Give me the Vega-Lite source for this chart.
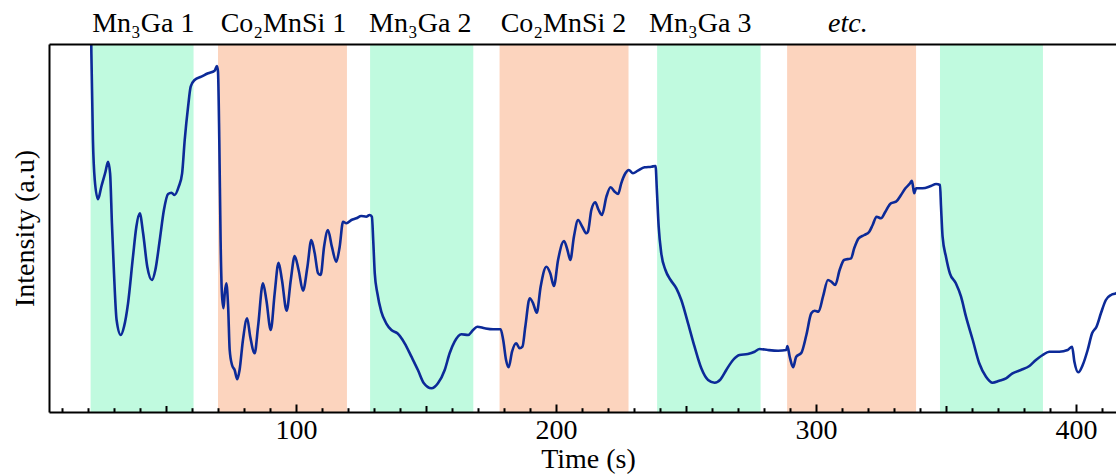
{
  "$schema": "https://vega.github.io/schema/vega-lite/v6.json",
  "width": 1067,
  "height": 368,
  "autosize": {"type": "none"},
  "padding": {"left": 49, "top": 44, "right": 0, "bottom": 63},
  "background": "white",
  "view": {"stroke": null},
  "config": {"font": "Liberation Serif"},
  "datasets": {
    "bands": [
      {"s": 21.0, "e": 60.6, "k": "Mn3Ga"},
      {"s": 70.0, "e": 119.6, "k": "Co2MnSi"},
      {"s": 128.5, "e": 168.2, "k": "Mn3Ga"},
      {"s": 178.3, "e": 227.9, "k": "Co2MnSi"},
      {"s": 238.9, "e": 278.7, "k": "Mn3Ga"},
      {"s": 288.9, "e": 338.5, "k": "Co2MnSi"},
      {"s": 347.7, "e": 387.3, "k": "Mn3Ga"}
    ],
    "signal": [
      {"t": 20.95, "v": 440}, {"t": 21.3, "v": 358.7}, {"t": 21.9, "v": 272}, {"t": 22.6, "v": 232},
      {"t": 23.85, "v": 212.7}, {"t": 25.1, "v": 225}, {"t": 26.7, "v": 240}, {"t": 27.7, "v": 250.3},
      {"t": 28.5, "v": 238.7}, {"t": 29.2, "v": 188.7}, {"t": 30.0, "v": 138.7}, {"t": 31.0, "v": 92},
      {"t": 32.6, "v": 77}, {"t": 33.85, "v": 85.3}, {"t": 35.4, "v": 108.7}, {"t": 37.3, "v": 155.3},
      {"t": 38.6, "v": 185.3}, {"t": 39.9, "v": 198.7}, {"t": 41.2, "v": 178.7}, {"t": 42.8, "v": 145.3},
      {"t": 44.6, "v": 132}, {"t": 45.9, "v": 142}, {"t": 47.6, "v": 172}, {"t": 49.2, "v": 202},
      {"t": 50.8, "v": 218}, {"t": 52.1, "v": 219.3}, {"t": 53.3, "v": 217}, {"t": 54.9, "v": 225.3},
      {"t": 56.2, "v": 238.7}, {"t": 57.2, "v": 272}, {"t": 58.5, "v": 305.3}, {"t": 59.5, "v": 325.3},
      {"t": 61.0, "v": 332}, {"t": 63.6, "v": 335.3}, {"t": 66.2, "v": 338.7}, {"t": 68.7, "v": 341.3},
      {"t": 69.6, "v": 346}, {"t": 70.0, "v": 340.3}, {"t": 70.5, "v": 272}, {"t": 71.0, "v": 172},
      {"t": 71.5, "v": 118.7}, {"t": 72.1, "v": 103.7}, {"t": 72.6, "v": 118.7}, {"t": 73.2, "v": 128.7},
      {"t": 73.9, "v": 105.3}, {"t": 74.5, "v": 62}, {"t": 75.4, "v": 47}, {"t": 76.4, "v": 42},
      {"t": 77.4, "v": 32.7}, {"t": 78.3, "v": 42}, {"t": 79.6, "v": 72}, {"t": 81.2, "v": 93.7},
      {"t": 82.4, "v": 75.3}, {"t": 84.1, "v": 58.7}, {"t": 85.4, "v": 85.3}, {"t": 87.3, "v": 128.7},
      {"t": 88.6, "v": 112}, {"t": 90.3, "v": 82}, {"t": 91.8, "v": 118.7}, {"t": 93.3, "v": 149.3},
      {"t": 94.6, "v": 132}, {"t": 96.4, "v": 101.3}, {"t": 98.0, "v": 132}, {"t": 99.5, "v": 156},
      {"t": 101.0, "v": 142}, {"t": 102.7, "v": 121.3}, {"t": 104.4, "v": 145.3}, {"t": 105.9, "v": 172},
      {"t": 107.2, "v": 158.7}, {"t": 108.5, "v": 138.7}, {"t": 109.5, "v": 137}, {"t": 110.8, "v": 165.3},
      {"t": 112.3, "v": 182}, {"t": 113.8, "v": 165.3}, {"t": 115.5, "v": 150.3}, {"t": 116.8, "v": 165.3},
      {"t": 118.1, "v": 190.3}, {"t": 119.4, "v": 188.7}, {"t": 121.3, "v": 192}, {"t": 123.2, "v": 193.7},
      {"t": 125.1, "v": 196}, {"t": 127.0, "v": 195.3}, {"t": 128.3, "v": 197}, {"t": 129.2, "v": 195.3},
      {"t": 129.7, "v": 172}, {"t": 130.3, "v": 138.7}, {"t": 131.3, "v": 118.7}, {"t": 132.8, "v": 100.3},
      {"t": 134.7, "v": 88.7}, {"t": 136.7, "v": 82}, {"t": 139.0, "v": 78.7}, {"t": 141.8, "v": 68.7},
      {"t": 144.4, "v": 55.3}, {"t": 146.9, "v": 42}, {"t": 149.2, "v": 28.7}, {"t": 152.1, "v": 23.7},
      {"t": 154.6, "v": 28.7}, {"t": 157.2, "v": 42}, {"t": 159.1, "v": 58.7}, {"t": 161.0, "v": 70.3},
      {"t": 163.6, "v": 77.7}, {"t": 166.2, "v": 77}, {"t": 168.1, "v": 82}, {"t": 169.7, "v": 85.3},
      {"t": 172.6, "v": 83.7}, {"t": 175.8, "v": 82.7}, {"t": 178.7, "v": 82.7}, {"t": 179.7, "v": 72},
      {"t": 180.8, "v": 52}, {"t": 181.8, "v": 44.7}, {"t": 183.1, "v": 60.3}, {"t": 184.7, "v": 68.7},
      {"t": 186.0, "v": 63.7}, {"t": 187.1, "v": 65.3}, {"t": 188.2, "v": 85.3}, {"t": 189.9, "v": 113.7},
      {"t": 191.2, "v": 108.7}, {"t": 192.6, "v": 99.3}, {"t": 194.1, "v": 125.3}, {"t": 196.3, "v": 145.3},
      {"t": 197.8, "v": 138.7}, {"t": 199.2, "v": 126}, {"t": 200.8, "v": 152}, {"t": 203.1, "v": 171},
      {"t": 204.4, "v": 162}, {"t": 205.5, "v": 152}, {"t": 206.9, "v": 175.3}, {"t": 208.5, "v": 192},
      {"t": 210.1, "v": 185.3}, {"t": 211.7, "v": 178.7}, {"t": 212.3, "v": 180.3}, {"t": 213.6, "v": 202},
      {"t": 215.1, "v": 209.7}, {"t": 216.4, "v": 202}, {"t": 217.7, "v": 197}, {"t": 219.4, "v": 215.3},
      {"t": 221.0, "v": 224.7}, {"t": 222.6, "v": 220.3}, {"t": 223.9, "v": 218}, {"t": 225.1, "v": 228.7},
      {"t": 226.7, "v": 238.7}, {"t": 228.0, "v": 242}, {"t": 229.6, "v": 238.7}, {"t": 231.5, "v": 241.3},
      {"t": 234.1, "v": 244.7}, {"t": 236.7, "v": 245.3}, {"t": 238.3, "v": 246}, {"t": 238.8, "v": 222},
      {"t": 239.5, "v": 185.3}, {"t": 240.5, "v": 158.7}, {"t": 242.1, "v": 142}, {"t": 244.1, "v": 132},
      {"t": 246.3, "v": 123.7}, {"t": 248.2, "v": 112}, {"t": 250.8, "v": 88.7}, {"t": 253.3, "v": 65.3},
      {"t": 255.9, "v": 43.7}, {"t": 258.5, "v": 32}, {"t": 261.0, "v": 29.3}, {"t": 263.3, "v": 32.7},
      {"t": 265.5, "v": 42}, {"t": 268.1, "v": 52}, {"t": 270.6, "v": 57}, {"t": 273.8, "v": 58},
      {"t": 276.4, "v": 60.3}, {"t": 278.3, "v": 63}, {"t": 281.5, "v": 62}, {"t": 285.4, "v": 61.3},
      {"t": 288.6, "v": 62}, {"t": 289.0, "v": 66}, {"t": 289.9, "v": 55.3}, {"t": 291.2, "v": 44.7},
      {"t": 292.4, "v": 55.3}, {"t": 294.4, "v": 59.3}, {"t": 296.3, "v": 77}, {"t": 298.2, "v": 98.7},
      {"t": 299.5, "v": 101.3}, {"t": 301.0, "v": 100.3}, {"t": 302.7, "v": 115.3}, {"t": 304.6, "v": 132},
      {"t": 305.9, "v": 130.3}, {"t": 307.4, "v": 127}, {"t": 309.1, "v": 142}, {"t": 310.8, "v": 152},
      {"t": 313.5, "v": 153.7}, {"t": 314.7, "v": 163.7}, {"t": 316.4, "v": 173.7}, {"t": 318.6, "v": 177},
      {"t": 320.5, "v": 180.3}, {"t": 321.8, "v": 187}, {"t": 323.3, "v": 195.3}, {"t": 325.0, "v": 193.7},
      {"t": 326.7, "v": 200.3}, {"t": 328.8, "v": 208.7}, {"t": 330.8, "v": 210.3}, {"t": 332.7, "v": 217},
      {"t": 334.4, "v": 223.7}, {"t": 336.2, "v": 228.7}, {"t": 336.9, "v": 231.3}, {"t": 337.8, "v": 218.7},
      {"t": 338.5, "v": 223.7}, {"t": 341.0, "v": 223.7}, {"t": 344.2, "v": 226}, {"t": 346.2, "v": 228},
      {"t": 347.7, "v": 227}, {"t": 348.1, "v": 205.3}, {"t": 348.7, "v": 175.3}, {"t": 350.0, "v": 155.3},
      {"t": 351.5, "v": 138.7}, {"t": 353.8, "v": 128.7}, {"t": 355.8, "v": 115.3}, {"t": 357.7, "v": 95.3},
      {"t": 360.3, "v": 72}, {"t": 362.8, "v": 48.7}, {"t": 365.4, "v": 35.3}, {"t": 367.9, "v": 29.3},
      {"t": 370.5, "v": 31.3}, {"t": 373.1, "v": 33.7}, {"t": 375.6, "v": 38.7}, {"t": 378.8, "v": 42},
      {"t": 382.1, "v": 46}, {"t": 384.6, "v": 52}, {"t": 387.2, "v": 57}, {"t": 389.7, "v": 60.3},
      {"t": 393.6, "v": 60.3}, {"t": 396.8, "v": 62}, {"t": 398.5, "v": 65.3}, {"t": 399.4, "v": 50.3},
      {"t": 400.9, "v": 39.7}, {"t": 402.6, "v": 47}, {"t": 404.5, "v": 62}, {"t": 406.2, "v": 78.7},
      {"t": 407.9, "v": 85.3}, {"t": 409.6, "v": 98.7}, {"t": 411.5, "v": 112}, {"t": 413.5, "v": 117},
      {"t": 415.4, "v": 118.7}, {"t": 417.0, "v": 122}
    ]
  },
  "layer": [
    {
      "data": {"name": "bands"},
      "mark": {"type": "rect"},
      "encoding": {
        "x": {
          "field": "s", "type": "quantitative",
          "scale": {"domain": [5, 415.4], "nice": false, "zero": false},
          "axis": {
            "orient": "bottom",
            "zindex": 1,
            "values": [10, 20, 30, 40, 50, 60, 70, 80, 90, 100, 110, 120, 130, 140, 150, 160, 170, 180, 190, 200, 210, 220, 230, 240, 250, 260, 270, 280, 290, 300, 310, 320, 330, 340, 350, 360, 370, 380, 390, 400, 410],
            "labelExpr": "datum.value % 100 === 0 ? datum.label : ''",
            "labelOverlap": false,
            "labelFlush": false,
            "grid": false,
            "domainColor": "black",
            "domainWidth": 2,
            "tickColor": "black",
            "tickWidth": 2,
            "tickSize": {"condition": [{"test": "datum.value % 100 === 0", "value": -8}, {"test": "datum.value % 50 === 0", "value": -6.5}], "value": -4.3},
            "labelFont": "Liberation Serif",
            "labelFontSize": 28,
            "labelColor": "black",
            "labelBaseline": "alphabetic",
            "labelPadding": 34,
            "title": "Time (s)",
            "titleFont": "Liberation Serif",
            "titleFontSize": 28,
            "titleFontWeight": "normal",
            "titleColor": "black",
            "titleBaseline": "alphabetic",
            "titleX": 539,
            "titleY": 55
          }
        },
        "x2": {"field": "e"},
        "color": {
          "field": "k", "type": "nominal",
          "scale": {"domain": ["Mn3Ga", "Co2MnSi"], "range": ["#c0fadf", "#fcd4be"]},
          "legend": null
        }
      }
    },
    {
      "data": {"name": "signal"},
      "mark": {"type": "line", "color": "#0c2a98", "strokeWidth": 2.6, "clip": true, "interpolate": "monotone"},
      "encoding": {
        "x": {
          "field": "t", "type": "quantitative",
          "scale": {"domain": [5, 415.4], "nice": false, "zero": false},
          "axis": {
            "orient": "top",
            "zindex": 1,
            "values": [41.1, 95.0, 147.6, 202.7, 255.3, 312.1],
            "labelExpr": "datum.value < 60 ? 'Mn₃Ga 1' : datum.value < 120 ? 'Co₂MnSi 1' : datum.value < 170 ? 'Mn₃Ga 2' : datum.value < 230 ? 'Co₂MnSi 2' : datum.value < 280 ? 'Mn₃Ga 3' : 'etc.'",
            "labelFontStyle": {"condition": {"test": "datum.value > 300", "value": "italic"}, "value": "normal"},
            "labelOverlap": false,
            "labelFlush": false,
            "ticks": false,
            "grid": false,
            "domainColor": "black",
            "domainWidth": 2,
            "labelFont": "Liberation Serif",
            "labelFontSize": 28,
            "labelColor": "black",
            "labelBaseline": "alphabetic",
            "labelPadding": 13,
            "title": null
          }
        },
        "y": {
          "field": "v", "type": "quantitative",
          "scale": {"domain": [0, 368], "nice": false, "zero": false},
          "axis": {
            "orient": "left",
            "zindex": 1,
            "ticks": false,
            "labels": false,
            "grid": false,
            "domainColor": "black",
            "domainWidth": 2,
            "title": "Intensity (a.u)",
            "titleFont": "Liberation Serif",
            "titleFontSize": 28,
            "titleFontWeight": "normal",
            "titleColor": "black",
            "titleBaseline": "alphabetic",
            "titleX": -16
          }
        }
      }
    }
  ],
  "resolve": {"axis": {"x": "independent"}}
}
